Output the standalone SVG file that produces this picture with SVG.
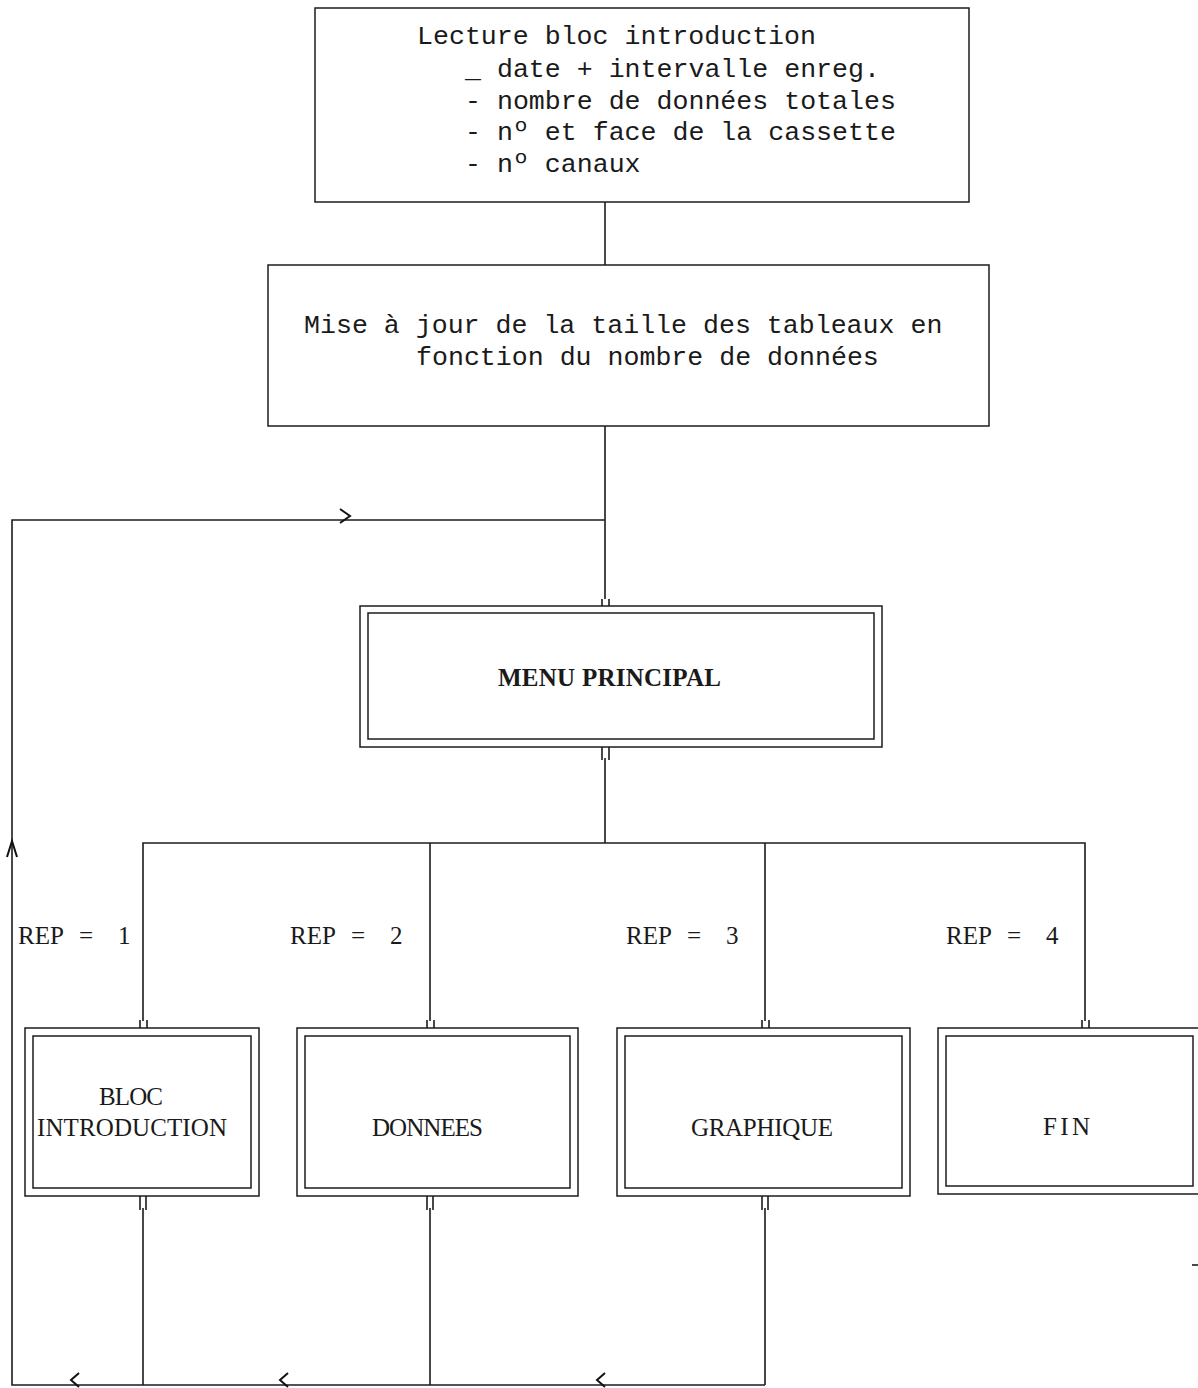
<svg xmlns="http://www.w3.org/2000/svg" width="1198" height="1388" viewBox="0 0 1198 1388">
<style>
.bg{fill:#ffffff}
.box{fill:none;stroke:#1c1c1c;stroke-width:1.5}
.ln{fill:none;stroke:#1c1c1c;stroke-width:1.6}
.ar{fill:none;stroke:#111;stroke-width:2}
.mono{font-family:"Liberation Mono","DejaVu Sans Mono",monospace;font-size:26.6px;fill:#1a1a1a}
.ser{font-family:"Liberation Serif","DejaVu Serif",serif;font-size:25px;fill:#1a1a1a}
.bold{font-weight:bold}
</style>
<rect class="bg" x="0" y="0" width="1198" height="1388"/>

<g id="connectors">
  <path class="ln" d="M605 202 V265"/>
  <path class="ln" d="M605 426 V599 M602 599 V606 M609 599 V606"/>
  <path class="ln" d="M605 520 H12 V1385 H765"/>
  <path class="ln" d="M602 747 V760 M609 747 V760 M605 758 V843"/>
  <path class="ln" d="M143 1021 V843 H1085 V1021 M430 843 V1021 M765 843 V1021"/>
  <path class="ln" d="M140 1020 V1028 M147 1020 V1028 M427 1020 V1028 M434 1020 V1028 M762 1020 V1028 M769 1020 V1028 M1082 1020 V1028 M1089 1020 V1028"/>
  <path class="ln" d="M140 1196 V1210 M146 1196 V1210 M143 1208 V1385"/>
  <path class="ln" d="M427 1196 V1210 M433 1196 V1210 M430 1208 V1385"/>
  <path class="ln" d="M762 1196 V1210 M768 1196 V1210 M765 1208 V1385"/>
  <path class="ar" d="M340 509 L350 516 L340 523"/>
  <path class="ar" d="M7 857 L12 841 L17 857"/>
  <path class="ar" d="M79 1373 L71 1380 L79 1387"/>
  <path class="ar" d="M288 1373 L280 1380 L288 1387"/>
  <path class="ar" d="M605 1373 L597 1380 L605 1387"/>
  <path class="ln" d="M1192 1265 H1198"/>
</g>

<g id="node-lecture">
  <rect class="box" x="315" y="8" width="654" height="194"/>
  <text class="mono" xml:space="preserve"><tspan x="417" y="44">Lecture bloc introduction</tspan><tspan x="465" y="77">_ date + intervalle enreg.</tspan><tspan x="465" y="109">- nombre de données totales</tspan><tspan x="465" y="140">- nº et face de la cassette</tspan><tspan x="465" y="172">- nº canaux</tspan></text>
</g>

<g id="node-maj">
  <rect class="box" x="268" y="265" width="721" height="161"/>
  <text class="mono" xml:space="preserve"><tspan x="304" y="333">Mise à jour de la taille des tableaux en</tspan><tspan x="416" y="365">fonction du nombre de données</tspan></text>
</g>

<g id="node-menu">
  <rect class="box" x="360" y="606" width="522" height="141"/>
  <rect class="box" x="368" y="613" width="506" height="126"/>
  <text class="ser bold" x="498" y="686" textLength="223" lengthAdjust="spacing">MENU PRINCIPAL</text>
</g>

<g id="labels-rep">
  <text class="ser"><tspan x="18" y="944">REP</tspan><tspan x="79" y="944">=</tspan><tspan x="118" y="944">1</tspan></text>
  <text class="ser"><tspan x="290" y="944">REP</tspan><tspan x="351" y="944">=</tspan><tspan x="390" y="944">2</tspan></text>
  <text class="ser"><tspan x="626" y="944">REP</tspan><tspan x="687" y="944">=</tspan><tspan x="726" y="944">3</tspan></text>
  <text class="ser"><tspan x="946" y="944">REP</tspan><tspan x="1007" y="944">=</tspan><tspan x="1046" y="944">4</tspan></text>
</g>

<g id="node-bloc">
  <rect class="box" x="25" y="1028" width="234" height="168"/>
  <rect class="box" x="33" y="1036" width="218" height="152"/>
  <text class="ser" x="99" y="1105" textLength="64" lengthAdjust="spacing">BLOC</text>
  <text class="ser" x="37" y="1136" textLength="190" lengthAdjust="spacing">INTRODUCTION</text>
</g>

<g id="node-donnees">
  <rect class="box" x="297" y="1028" width="281" height="168"/>
  <rect class="box" x="305" y="1036" width="265" height="152"/>
  <text class="ser" x="372" y="1136" textLength="111" lengthAdjust="spacing">DONNEES</text>
</g>

<g id="node-graphique">
  <rect class="box" x="617" y="1028" width="293" height="168"/>
  <rect class="box" x="625" y="1036" width="277" height="152"/>
  <text class="ser" x="691" y="1136" textLength="142" lengthAdjust="spacing">GRAPHIQUE</text>
</g>

<g id="node-fin">
  <rect class="box" x="938" y="1028" width="270" height="166"/>
  <rect class="box" x="946" y="1036" width="247" height="150"/>
  <text class="ser" x="1043" y="1135" textLength="47" lengthAdjust="spacing">FIN</text>
</g>
</svg>
